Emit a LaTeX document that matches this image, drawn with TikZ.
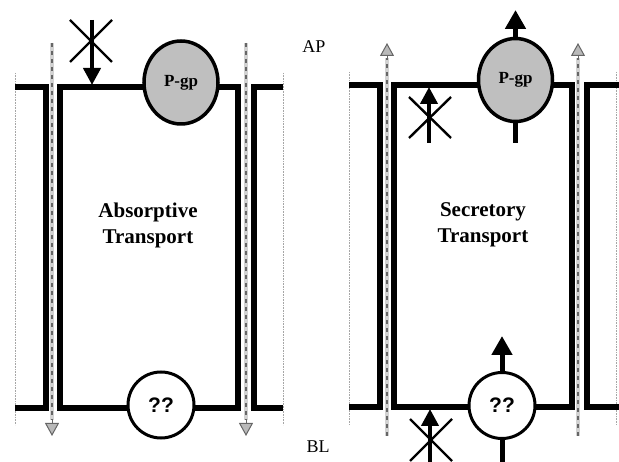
\documentclass[tikz,border=0pt]{standalone}
\usepackage{fontspec}
\setmainfont{Liberation Serif}
\newfontfamily\qfont{Liberation Sans}
\usetikzlibrary{arrows.meta,shapes.geometric}
\begin{document}
\begin{tikzpicture}[x=1pt,y=-1pt,
  wall/.style={line width=6pt, line join=miter},
  thinline/.style={line width=0.9pt, gray!70, dash pattern=on 0.8pt off 0.8pt},
  gapbg/.style={line width=4pt, gray!35},
  gapfg/.style={line width=2.6pt, black!60, dash pattern=on 4pt off 4pt},
  gaptip/.style={line width=1pt, black!60, -{Triangle[length=13pt,width=14pt,fill=gray!55]}},
  pgp/.style={ellipse, draw, line width=3.5pt, fill=gray!50, minimum width=74pt, minimum height=83pt, inner sep=0pt, font=\fontsize{17}{17}\selectfont\bfseries},
  qq/.style={circle, draw, line width=3pt, fill=white, minimum size=66pt, inner sep=0pt, font=\qfont\fontsize{21}{21}\selectfont\bfseries},
  shaft/.style={line width=5pt},
  arr/.style={line width=5pt, -{Triangle[length=19pt,width=20pt]}},
  arrs/.style={line width=4pt, -{Triangle[length=17pt,width=17pt]}},
  xline/.style={line width=2.4pt},
  title/.style={font=\fontsize{21}{26}\selectfont\bfseries, align=center},
  side/.style={font=\fontsize{18}{18}\selectfont}
]
\useasboundingbox (0,0) rectangle (619,462);

% ---------- left panel ----------
\draw[thinline] (15,73) -- (15,425);
\draw[thinline] (283,73) -- (283,425);
\draw[wall] (15,87) -- (45.5,87) -- (45.5,408) -- (15,408);
\draw[wall] (283,87) -- (253.5,87) -- (253.5,408) -- (283,408);
\draw[wall] (59.5,87) rectangle (237.5,408);

\coordinate (la1) at (52,43);  \coordinate (la2) at (52,420); \coordinate (la3) at (52,436);
\coordinate (lb1) at (246,43); \coordinate (lb2) at (246,420); \coordinate (lb3) at (246,436);
\draw[gapbg] (la1) -- (la2); \draw[gapfg] (la1) -- (la2);
\draw[gaptip] (la2) -- (la3);
\draw[gapbg] (lb1) -- (lb2); \draw[gapfg] (lb1) -- (lb2);
\draw[gaptip] (lb2) -- (lb3);

\node[pgp] (pgpL) at (181,82.5) {P-gp};
\node[qq] (qqL) at (161,405) {??};

\coordinate (c1s) at (92,20); \coordinate (c1e) at (92,85);
\draw[arrs] (c1s) -- (c1e);
\coordinate (x1a) at (70,20); \coordinate (x1b) at (112,62);
\coordinate (x1c) at (112,20); \coordinate (x1d) at (70,62);
\draw[xline] (x1a) -- (x1b);
\draw[xline] (x1c) -- (x1d);

\node[title] (tL) at (148,225) {Absorptive\\Transport};

% ---------- labels ----------
\node[side] (ap) at (314,47) {AP};
\node[side] (bl) at (318,447) {BL};

% ---------- right panel ----------
\draw[thinline] (349,72) -- (349,425);
\draw[thinline] (616,72) -- (616,425);
\draw[wall] (349,85) -- (380,85) -- (380,407) -- (349,407);
\draw[wall] (619,85) -- (587,85) -- (587,407) -- (619,407);
\draw[wall] (394,85) rectangle (572,407);

\coordinate (ra1) at (387,436); \coordinate (ra2) at (387,58); \coordinate (ra3) at (387,43);
\coordinate (rb1) at (578,436); \coordinate (rb2) at (578,58); \coordinate (rb3) at (578,43);
\draw[gapbg] (ra1) -- (ra2); \draw[gapfg] (ra1) -- (ra2);
\draw[gaptip] (ra2) -- (ra3);
\draw[gapbg] (rb1) -- (rb2); \draw[gapfg] (rb1) -- (rb2);
\draw[gaptip] (rb2) -- (rb3);

\node[pgp] (pgpR) at (515.5,80) {P-gp};
\node[qq] (qqR) at (502,405.5) {??};

\coordinate (pTop) at (515.5,10);
\coordinate (pBot) at (515.5,143);
\draw[arr] (pgpR.north) -- (pTop);
\draw[shaft] (pBot) -- (pgpR.south);

\coordinate (qTop) at (502,336);
\coordinate (qBot) at (502,462);
\draw[arr] (qqR.north) -- (qTop);
\draw[shaft] (qBot) -- (qqR.south);

\coordinate (c2s) at (429,143); \coordinate (c2e) at (429,87);
\draw[arrs] (c2s) -- (c2e);
\coordinate (x2a) at (409,97); \coordinate (x2b) at (451,138);
\coordinate (x2c) at (451,97); \coordinate (x2d) at (409,138);
\draw[xline] (x2a) -- (x2b);
\draw[xline] (x2c) -- (x2d);

\coordinate (c3s) at (430,462); \coordinate (c3e) at (430,409);
\draw[arrs] (c3s) -- (c3e);
\coordinate (x3a) at (410,419); \coordinate (x3b) at (452,461);
\coordinate (x3c) at (452,419); \coordinate (x3d) at (410,461);
\draw[xline] (x3a) -- (x3b);
\draw[xline] (x3c) -- (x3d);

\node[title] (tR) at (483,225) {Secretory\\Transport};
\end{tikzpicture}
\end{document}
